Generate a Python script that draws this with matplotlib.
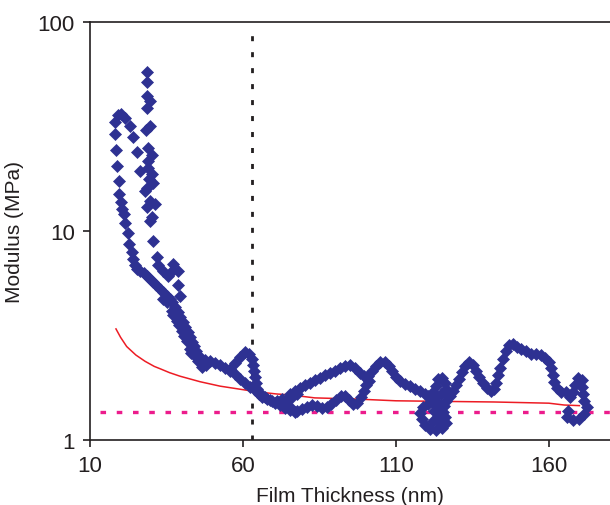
import numpy as np
import matplotlib
matplotlib.use('Agg')
import matplotlib.pyplot as plt
from matplotlib.ticker import FixedLocator, FixedFormatter, NullLocator

plt.rcParams['font.family'] = ['Liberation Sans', 'DejaVu Sans']
plt.rcParams['lines.scale_dashes'] = False

# --- measured modulus data (film thickness in nm, modulus in MPa) ---
# left branch: high values at thin films running down to the main curve
left_x = [18.2, 19.2, 20.1, 21.4, 23.1, 18.2, 24.1, 18.5, 25.4, 18.8, 26.3, 19.5, 19.5, 20.1,
          20.5, 21.1, 21.4, 22.4, 22.7, 23.7, 24.1, 24.7, 25.4, 26.3, 27.6, 28.6, 29.6, 30.6,
          31.6, 32.9, 33.9, 35.2, 36.1, 36.8, 37.8, 38.8, 39.4, 40.4, 41.0, 42.0, 42.7, 43.3,
          44.0, 44.6, 45.6, 46.6, 35.2, 36.8, 38.4, 40.1, 41.7, 42.7, 44.3, 45.3, 46.6, 47.9,
          34.0, 37.3, 39.0, 40.8, 43.0]
left_y = [33.2, 35.9, 36.3, 34.7, 31.8, 29.1, 28.2, 24.4, 23.9, 20.5, 19.4, 17.3, 15.0, 13.7,
          12.7, 12.1, 10.9, 9.8, 8.66, 7.94, 7.35, 6.87, 6.58, 6.44, 6.30, 6.09, 5.89, 5.70,
          5.52, 5.28, 5.11, 4.89, 4.73, 4.57, 4.33, 4.10, 3.88, 3.67, 3.47, 3.29, 3.11, 2.94,
          2.82, 2.67, 2.52, 2.39, 4.57, 4.15, 3.71, 3.33, 2.98, 2.72, 2.52, 2.39, 2.23, 2.28,
          4.75, 3.95, 3.55, 3.15, 2.62]

# scattered column of very high values near 29 nm
col_x = [28.6, 28.6, 28.6, 29.6, 28.6, 29.6, 28.3, 29.0, 30.3, 29.0, 29.0, 30.3, 29.3, 30.6,
         28.6, 28.0, 29.6, 31.2, 28.6, 30.3, 29.6, 30.6, 31.9, 32.2, 33.9, 35.5, 37.1, 36.8,
         38.8, 38.8, 39.4]
col_y = [57.6, 51.6, 44.3, 41.9, 38.8, 31.8, 30.4, 24.9, 23.2, 21.6, 20.0, 18.7, 17.7, 16.9,
         16.0, 15.5, 13.9, 13.5, 13.0, 11.7, 11.2, 8.95, 7.51, 6.87, 6.44, 6.09, 6.95, 6.44,
         6.44, 5.52, 4.89]

# main descending band towards the minimum
band_x = [47.6, 49.2, 50.8, 52.5, 54.1, 55.8, 57.4, 59.0, 60.7, 62.3, 63.9, 65.6, 67.2, 68.8,
          70.5, 72.1, 73.7, 75.4, 77.0]
band_y = [2.41, 2.39, 2.34, 2.28, 2.21, 2.14, 2.07, 1.96, 1.88, 1.79, 1.73, 1.68, 1.61, 1.55,
          1.50, 1.47, 1.42, 1.39, 1.36]

# small peak around 61 nm
peak_x = [55.8, 57.4, 59.0, 60.7, 62.0, 63.0, 63.3, 63.6, 63.9, 64.2, 64.6, 65.2, 66.2, 67.8,
          69.5, 71.1, 72.7, 74.4, 76.0, 77.6]
peak_y = [2.19, 2.33, 2.49, 2.64, 2.58, 2.44, 2.28, 2.14, 2.00, 1.88, 1.75, 1.66, 1.61, 1.57,
          1.54, 1.54, 1.57, 1.57, 1.61, 1.66]

# upper wave from 75 to 120 nm
upper_x = [75.4, 77.0, 78.6, 80.3, 81.9, 83.5, 85.2, 86.8, 88.4, 90.1, 91.7, 93.3, 95.0, 96.6,
           98.2, 99.5, 100.8, 102.2, 103.5, 104.8, 106.4, 107.7, 108.7, 110.0, 111.3, 112.9,
           114.6, 116.2, 117.8, 119.5, 120.5]
upper_y = [1.66, 1.72, 1.77, 1.83, 1.88, 1.94, 1.98, 2.05, 2.09, 2.14, 2.21, 2.26, 2.28, 2.21,
           2.09, 2.02, 2.02, 2.14, 2.26, 2.36, 2.36, 2.26, 2.14, 2.00, 1.92, 1.85, 1.81, 1.75,
           1.72, 1.66, 1.62]

# lower wave from 75 to 101 nm
lower_x = [75.4, 77.6, 79.3, 80.9, 82.5, 84.2, 85.8, 87.5, 88.8, 90.4, 92.0, 93.3, 94.6, 95.9,
           97.3, 98.6, 99.5, 100.2, 101.2]
lower_y = [1.44, 1.38, 1.41, 1.44, 1.47, 1.45, 1.42, 1.44, 1.49, 1.56, 1.62, 1.62, 1.56, 1.49,
           1.51, 1.61, 1.72, 1.83, 1.92]

# tangled cluster near 123 nm
blob_x = [121.1, 122.1, 123.1, 123.7, 125.0, 126.0, 126.4, 126.7, 126.4, 125.7, 125.4, 126.0,
          126.4, 125.0, 123.1, 121.1, 119.5, 118.5, 117.8, 118.8, 120.5, 122.1, 123.7, 123.1,
          122.4, 123.7, 122.1, 124.4, 123.7, 124.7]
blob_y = [1.61, 1.70, 1.81, 1.96, 1.98, 1.88, 1.75, 1.64, 1.54, 1.45, 1.36, 1.29, 1.21, 1.14,
          1.12, 1.13, 1.18, 1.26, 1.35, 1.44, 1.49, 1.50, 1.50, 1.62, 1.38, 1.29, 1.23, 1.21,
          1.41, 1.66]

# right part from 127 to 172 nm
right_x = [127.6, 128.6, 129.6, 130.6, 131.6, 132.5, 133.9, 135.2, 136.1, 137.1, 138.4, 139.7,
           141.0, 142.0, 142.7, 143.3, 144.0, 145.0, 145.9, 146.9, 148.2, 149.5, 150.8, 152.5,
           154.1, 155.8, 157.4, 158.7, 160.0, 160.7, 161.3, 161.6, 162.6, 163.9, 165.5, 166.9,
           167.8, 168.5, 169.5, 170.8, 170.8, 171.1, 171.4, 172.4, 171.4, 169.8, 167.8, 165.9,
           166.2]
right_y = [1.62, 1.72, 1.83, 1.96, 2.12, 2.26, 2.36, 2.28, 2.14, 2.00, 1.88, 1.77, 1.72, 1.75,
           1.88, 2.04, 2.21, 2.44, 2.66, 2.85, 2.88, 2.79, 2.72, 2.67, 2.58, 2.58, 2.55, 2.47,
           2.36, 2.21, 2.05, 1.90, 1.77, 1.70, 1.70, 1.61, 1.70, 1.83, 1.98, 1.94, 1.79, 1.66,
           1.54, 1.44, 1.33, 1.26, 1.25, 1.29, 1.38]

# model curve (red)
model_x = [18.5, 20, 22, 25, 28, 31, 33, 36, 39.4, 46, 52.5, 59, 64.6, 71, 76, 83.5, 97, 110,
           125, 142, 160, 165, 170]
model_y = [3.40, 3.10, 2.80, 2.55, 2.38, 2.25, 2.19, 2.10, 2.02, 1.90, 1.81, 1.75, 1.70, 1.66,
           1.64, 1.59, 1.57, 1.54, 1.53, 1.52, 1.50, 1.47, 1.46]

bulk_modulus = 1.36       # dashed magenta level
critical_thickness = 63   # dotted black line

blue = '#2E3192'
ink = '#231F20'

fig = plt.figure(figsize=(6.1, 5.06), dpi=100)
ax = fig.add_axes([0.1475, 0.1285, 0.8525, 0.826])

ax.hlines(bulk_modulus, 13.3, 180, color='#EC1C8C', lw=2.4, linestyle=(0, (4.0, 7.7)), zorder=1)
ax.vlines(critical_thickness, 1, 88, color=ink, lw=2.0, linestyle=(0, (3.6, 7.9)), zorder=1)
ax.plot(model_x, model_y, color='#ED1C24', lw=1.1, zorder=2)

for xs, ys in [(left_x, left_y), (col_x, col_y), (band_x, band_y), (peak_x, peak_y),
               (upper_x, upper_y), (lower_x, lower_y), (blob_x, blob_y), (right_x, right_y)]:
    ax.plot(xs, ys, linestyle='none', marker='D', ms=6.0, mfc=blue, mec=blue, mew=0.5, zorder=3)

ax.set_yscale('log')
ax.set_xlim(10, 180)
ax.set_ylim(1, 100)
ax.xaxis.set_major_locator(FixedLocator([10, 60, 110, 160]))
ax.yaxis.set_major_locator(FixedLocator([1, 10, 100]))
ax.yaxis.set_major_formatter(FixedFormatter(['1', '10', '100']))
ax.yaxis.set_minor_locator(NullLocator())

for side in ['left', 'bottom', 'top']:
    ax.spines[side].set_color(ink)
    ax.spines[side].set_linewidth(1.2)
ax.spines['right'].set_visible(False)
ax.tick_params(direction='out', length=5, width=1.2, color=ink, labelsize=16,
               labelcolor=ink, pad=6)

ax.set_xlabel('Film Thickness (nm)', fontsize=15, color=ink, labelpad=7)
ax.set_ylabel('Modulus (MPa)', fontsize=15, color=ink, labelpad=10)

plt.savefig('out.png', dpi=100)
plt.close()
